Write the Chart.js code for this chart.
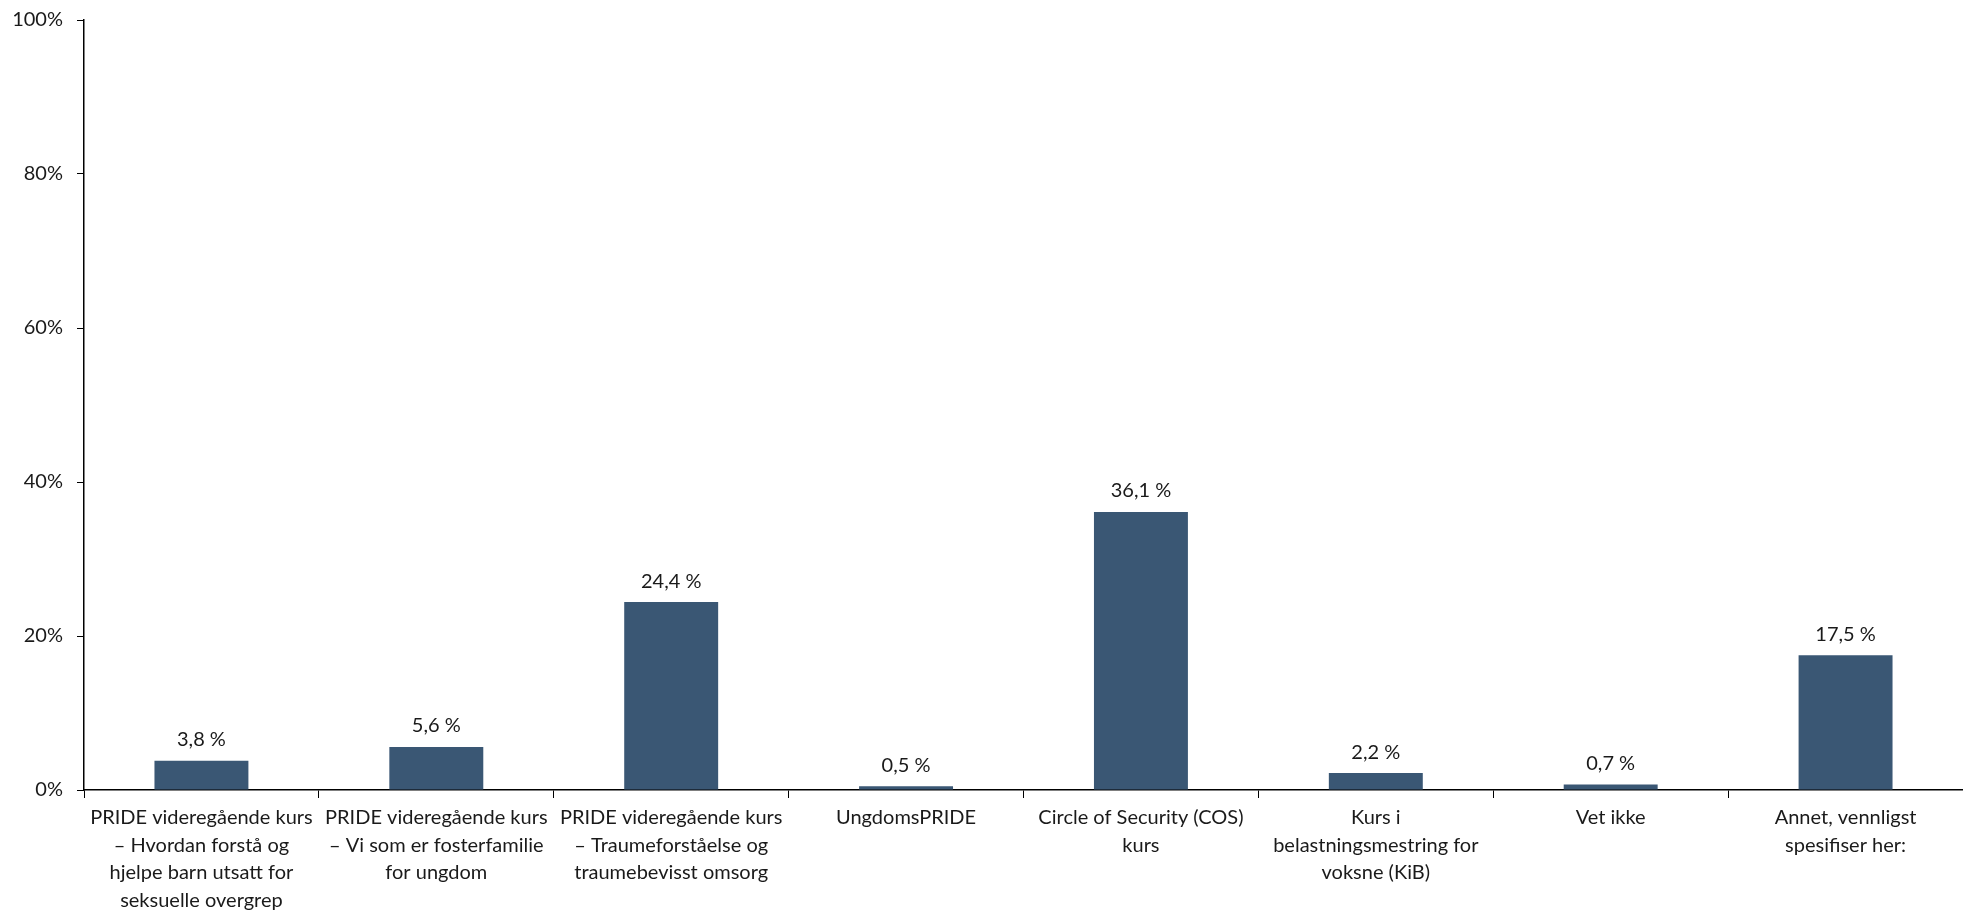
<!DOCTYPE html>
<html>
<head>
<meta charset="utf-8">
<script src="https://cdn.jsdelivr.net/npm/chart.js@4.4.0/dist/chart.umd.min.js"></script>
<style>
  html, body { margin: 0; padding: 0; background: #fff; }
  #wrap { width: 1963px; height: 914px; }
</style>
</head>
<body>
<div id="wrap"><canvas id="barChart" width="1963" height="914"></canvas></div>
<script>
var categories = [
    ["PRIDE videregående kurs", "– Hvordan forstå og", "hjelpe barn utsatt for", "seksuelle overgrep"],
    ["PRIDE videregående kurs", "– Vi som er fosterfamilie", "for ungdom"],
    ["PRIDE videregående kurs", "– Traumeforståelse og", "traumebevisst omsorg"],
    ["UngdomsPRIDE"],
    ["Circle of Security (COS)", "kurs"],
    ["Kurs i", "belastningsmestring for", "voksne (KiB)"],
    ["Vet ikke"],
    ["Annet, vennligst", "spesifiser her:"]
];
var values = [3.8, 5.6, 24.4, 0.5, 36.1, 2.2, 0.7, 17.5];
var yTicks = [0, 20, 40, 60, 80, 100];

var barColor = "rgb(58, 87, 116)";
var textColor = "#1a1a1a";
var fontFamily = "Lato, 'Noto Sans', sans-serif";

// labels above bars, like "36,1 %"
var valueLabels = {
    id: 'valueLabels',
    afterDatasetsDraw: function(chart) {
        var c = chart.ctx;
        var meta = chart.getDatasetMeta(0);
        c.save();
        c.font = "20px " + fontFamily;
        c.fillStyle = textColor;
        c.textAlign = "center";
        c.textBaseline = "bottom";
        meta.data.forEach(function(bar, i) {
            var txt = values[i].toFixed(1).replace(".", ",") + " %";
            c.fillText(txt, bar.x, bar.y - 11);
        });
        c.restore();
    }
};

var ctx = document.getElementById("barChart");
var chart = new Chart(ctx, {
    type: 'bar',
    data: {
        labels: categories,
        datasets: [{
            data: values,
            backgroundColor: barColor,
            barPercentage: 0.4,
            categoryPercentage: 1.0
        }]
    },
    options: {
        responsive: false,
        animation: false,
        layout: { padding: 0 },
        plugins: {
            legend: { display: false },
            tooltip: { enabled: false }
        },
        scales: {
            x: {
                offset: true,
                grid: {
                    offset: true,
                    drawOnChartArea: false,
                    drawTicks: true,
                    tickLength: 8,
                    color: "#000"
                },
                border: { color: "#000", width: 1.5 },
                ticks: {
                    color: textColor,
                    font: { family: fontFamily, size: 20, lineHeight: 1.375 },
                    maxRotation: 0,
                    minRotation: 0,
                    autoSkip: false,
                    padding: 6
                },
                afterFit: function(scale) {
                    scale.height = 124;
                    scale.paddingTop = 0;
                    scale.paddingBottom = 0;
                }
            },
            y: {
                min: 0,
                max: 100,
                afterBuildTicks: function(scale) {
                    scale.ticks = yTicks.map(function(v) { return { value: v }; });
                },
                grid: {
                    drawOnChartArea: false,
                    drawTicks: true,
                    tickLength: 7,
                    color: "#000"
                },
                border: { color: "#000", width: 1.5 },
                ticks: {
                    color: textColor,
                    font: { family: fontFamily, size: 20 },
                    padding: 14,
                    callback: function(v) { return v + "%"; }
                },
                afterFit: function(scale) {
                    scale.width = 84;
                    scale.paddingTop = 20;
                    scale.paddingBottom = 0;
                }
            }
        }
    },
    plugins: [valueLabels]
});
</script>
</body>
</html>
